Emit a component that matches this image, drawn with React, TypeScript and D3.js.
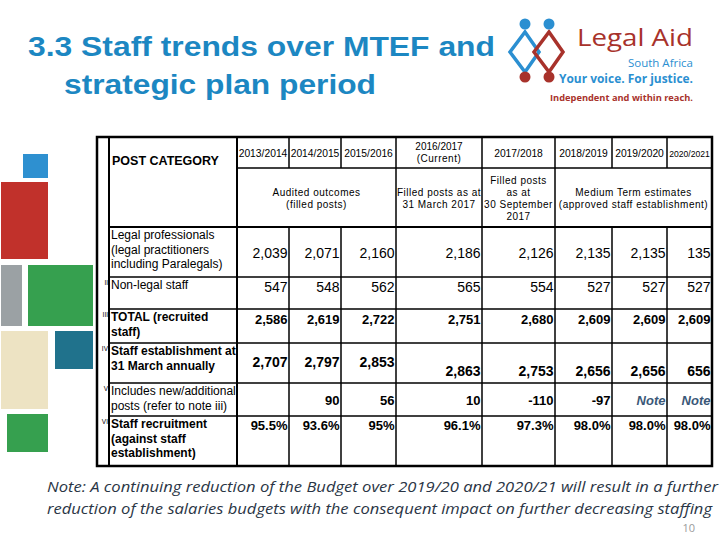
import React from 'react'
import * as d3 from 'd3'

// table content
const years = ['2013/2014', '2014/2015', '2015/2016', '2016/2017', '2017/2018', '2018/2019', '2019/2020', '2020/2021']
const categories = [
  ['Legal professionals', '(legal practitioners', 'including Paralegals)'],
  ['Non-legal staff'],
  ['TOTAL (recruited', 'staff)'],
  ['Staff establishment at', '31 March annually'],
  ['Includes new/additional', 'posts (refer to note iii)'],
  ['Staff recruitment', '(against staff', 'establishment)'],
]
const romans = ['', 'II', 'III', 'IV', 'V', 'VI']
const legalProfessionals = ['2,039', '2,071', '2,160', '2,186', '2,126', '2,135', '2,135', '135']
const nonLegalStaff = ['547', '548', '562', '565', '554', '527', '527', '527']
const totalRecruited = ['2,586', '2,619', '2,722', '2,751', '2,680', '2,609', '2,609', '2,609']
const establishment = ['2,707', '2,797', '2,853', '2,863', '2,753', '2,656', '2,656', '656']
const newPosts = ['', '90', '56', '10', '-110', '-97', 'Note', 'Note']
const recruitment = ['95.5%', '93.6%', '95%', '96.1%', '97.3%', '98.0%', '98.0%', '98.0%']

const rows = [legalProfessionals, nonLegalStaff, totalRecruited, establishment, newPosts, recruitment]
const rowBold = [false, false, true, true, true, true]
const labelBold = [false, false, true, true, false, true]

const headerGroups = [
  { from: 0, to: 2, lines: ['Audited outcomes', '(filled posts)'] },
  { from: 3, to: 3, lines: ['Filled posts as at', '31 March 2017'] },
  { from: 4, to: 4, lines: ['Filled posts', 'as at', '30 September', '2017'] },
  { from: 5, to: 7, lines: ['Medium Term estimates', '(approved staff establishment)'] },
]

const colWidths = [12, 128, 52, 52, 55, 86, 73, 57, 55, 45]
const rowHeights = [31, 59, 50, 32, 34, 40, 33, 50]

const blocks = [
  { x: 23, y: 154, w: 25, h: 24, c: '#2e90d0' },
  { x: 1, y: 182, w: 47, h: 77, c: '#c1312b' },
  { x: 1, y: 265, w: 21, h: 61, c: '#9ba1a4' },
  { x: 28, y: 265, w: 65, h: 61, c: '#36a04f' },
  { x: 1, y: 331, w: 47, h: 78, c: '#ede3c3' },
  { x: 55, y: 331, w: 38, h: 38, c: '#20728c' },
  { x: 7, y: 414, w: 41, h: 38, c: '#36a04f' },
]

const FONT = '"Liberation Sans", Arial, sans-serif'
const BLUE = '#2b8fd1'
const RED = '#a8322b'

export default function App() {
  const left = 97
  const top = 137
  const xEdges = [0, ...d3.cumsum(colWidths)]
  const yEdges = [0, ...d3.cumsum(rowHeights)]
  const x = d3.scaleLinear().domain([0, d3.sum(colWidths)]).range([left, left + d3.sum(colWidths)])
  const y = d3.scaleLinear().domain([0, d3.sum(rowHeights)]).range([top, top + d3.sum(rowHeights)])
  const colL = (i: number) => x(xEdges[i + 2])
  const colR = (i: number) => x(xEdges[i + 3])
  const right = x(xEdges[xEdges.length - 1])
  const bottom = y(yEdges[yEdges.length - 1])
  const bodyTop = y(yEdges[2])

  const diamond = (cx: number) => `${cx},32 ${cx + 14},52 ${cx},72 ${cx - 15},52`

  return (
    <svg width={720} height={540} style={{ position: 'absolute', left: 0, top: 0, background: '#fff' }}>
      <rect width={720} height={540} fill="#fff" />

      {/* title */}
      <text x={28} y={56} fontFamily={FONT} fontWeight="bold" fontSize={28} fill="#1c87c2"
        textLength={467} lengthAdjust="spacingAndGlyphs">3.3 Staff trends over MTEF and</text>
      <text x={64} y={94} fontFamily={FONT} fontWeight="bold" fontSize={28} fill="#1c87c2"
        textLength={312} lengthAdjust="spacingAndGlyphs">strategic plan period</text>

      {/* logo */}
      <g>
        <polygon points={diamond(525)} fill="none" stroke={BLUE} strokeWidth={3.5} />
        <polygon points={diamond(549)} fill="none" stroke={RED} strokeWidth={3.5} />
        <circle cx={525} cy={24} r={5.5} fill={BLUE} />
        <circle cx={549} cy={24} r={5.5} fill={BLUE} />
        <circle cx={525} cy={77} r={5.5} fill={RED} />
        <circle cx={549} cy={77} r={5.5} fill={RED} />
        <text x={693} y={46} textAnchor="end" fontFamily='"Open Sans", sans-serif' fontSize={24} fill={RED}
          textLength={116} lengthAdjust="spacingAndGlyphs">Legal Aid</text>
        <text x={693} y={67} textAnchor="end" fontFamily='"Open Sans", sans-serif' fontSize={11.5} fill={BLUE}>South Africa</text>
        <text x={693} y={83} textAnchor="end" fontFamily='"Open Sans", sans-serif' fontWeight="bold" fontSize={12.5} fill={BLUE}
          textLength={134} lengthAdjust="spacingAndGlyphs">Your voice. For justice.</text>
        <text x={693} y={101} textAnchor="end" fontFamily='"Open Sans", sans-serif' fontWeight="bold" fontSize={8.5} fill={RED}
          textLength={143} lengthAdjust="spacingAndGlyphs">Independent and within reach.</text>
      </g>

      {/* decorative blocks */}
      {blocks.map((b, i) => (
        <rect key={i} x={b.x} y={b.y} width={b.w} height={b.h} fill={b.c} />
      ))}

      {/* header text */}
      <text x={x(xEdges[1]) + 3} y={165} fontFamily={FONT} fontWeight="bold" fontSize={12.5}>POST CATEGORY</text>
      {years.map((yr, i) => {
        const cx = (colL(i) + colR(i)) / 2
        if (i === 3) {
          return (
            <text key={yr} x={cx} textAnchor="middle" fontFamily={FONT} fontSize={10}>
              <tspan x={cx} y={150}>{yr}</tspan>
              <tspan x={cx} y={162} letterSpacing={0.5}>(Current)</tspan>
            </text>
          )
        }
        return (
          <text key={yr} x={cx} y={157} textAnchor="middle" fontFamily={FONT}
            fontSize={i === 7 ? 8.6 : 10.3}>{yr}</text>
        )
      })}
      {headerGroups.map((g) => {
        const cx = (colL(g.from) + colR(g.to)) / 2
        const y0 = g.lines.length === 4 ? 184 : 196
        return (
          <text key={g.lines[0]} textAnchor="middle" fontFamily={FONT} fontSize={10} letterSpacing={0.5}>
            {g.lines.map((l, k) => (
              <tspan key={k} x={cx} y={y0 + k * 12}>{l}</tspan>
            ))}
          </text>
        )
      })}

      {/* body */}
      {categories.map((lines, r) => {
        const rt = y(yEdges[r + 2])
        return (
          <g key={r}>
            <text x={x(xEdges[1]) - 1} y={rt + 8} textAnchor="end" fontFamily={FONT} fontSize={6.5}>{romans[r]}</text>
            <text fontFamily={FONT} fontSize={12} fontWeight={labelBold[r] ? 'bold' : 'normal'}>
              {lines.map((l, k) => (
                <tspan key={k} x={x(xEdges[1]) + 2} y={rt + 12 + k * 14.5}>{l}</tspan>
              ))}
            </text>
          </g>
        )
      })}
      {rows.map((vals, r) => {
        const rt = y(yEdges[r + 2])
        const rb = y(yEdges[r + 3])
        return vals.map((v, i) => {
          let ty = r === 0 ? (rt + rb) / 2 + 6 : r === 3 ? (i < 3 ? rt + 24 : rt + 33) : rt + 15
          if (r === 5) ty = rt + 14
          if (r === 4) ty = rt + 22
          const isNote = v === 'Note'
          return (
            <text key={r + '-' + i} x={colR(i) - 1.5} y={ty} textAnchor="end" fontFamily={FONT}
              fontSize={r < 2 ? 14 : r === 3 ? 14 : 13}
              fontWeight={rowBold[r] ? 'bold' : 'normal'}
              fontStyle={isNote ? 'italic' : 'normal'}
              fill={isNote ? '#3b5878' : '#000'}>{v}</text>
          )
        })
      })}

      {/* grid */}
      <g stroke="#000" fill="none">
        {years.slice(1).map((_, k) => {
          const i = k + 1
          const xx = colL(i)
          const spanHeader2 = i === 3 || i === 4 || i === 5
          return (
            <g key={i} strokeWidth={1.5}>
              <line x1={xx} x2={xx} y1={top} y2={y(yEdges[1])} />
              {spanHeader2 && <line x1={xx} x2={xx} y1={y(yEdges[1])} y2={bodyTop} />}
              <line x1={xx} x2={xx} y1={bodyTop} y2={bottom} />
            </g>
          )
        })}
        <line x1={colL(0)} x2={right} y1={y(yEdges[1])} y2={y(yEdges[1])} strokeWidth={1.5} />
        {yEdges.slice(2, -1).map((e, k) => (
          <line key={k} x1={x(xEdges[1])} x2={right} y1={y(e)} y2={y(e)} strokeWidth={k === 0 ? 2 : 1.5} />
        ))}
        <line x1={x(xEdges[1])} x2={x(xEdges[1])} y1={top} y2={bottom} strokeWidth={2} />
        <line x1={colL(0)} x2={colL(0)} y1={top} y2={bottom} strokeWidth={2} />
        <rect x={left} y={top} width={right - left} height={bottom - top} strokeWidth={2.5} />
      </g>

      {/* note */}
      <text x={47} y={492} fontFamily='"Open Sans", sans-serif' fontStyle="italic" fontSize={15} fill="#2a3545"
        textLength={671} lengthAdjust="spacingAndGlyphs">Note: A continuing reduction of the Budget over 2019/20 and 2020/21 will result in a further</text>
      <text x={47} y={514} fontFamily='"Open Sans", sans-serif' fontStyle="italic" fontSize={15} fill="#2a3545"
        textLength={665} lengthAdjust="spacingAndGlyphs">reduction of the salaries budgets with the consequent impact on further decreasing staffing</text>
      <text x={695} y={532} textAnchor="end" fontFamily='"Open Sans", sans-serif' fontSize={11} fill="#9a9a9a">10</text>
    </svg>
  )
}
